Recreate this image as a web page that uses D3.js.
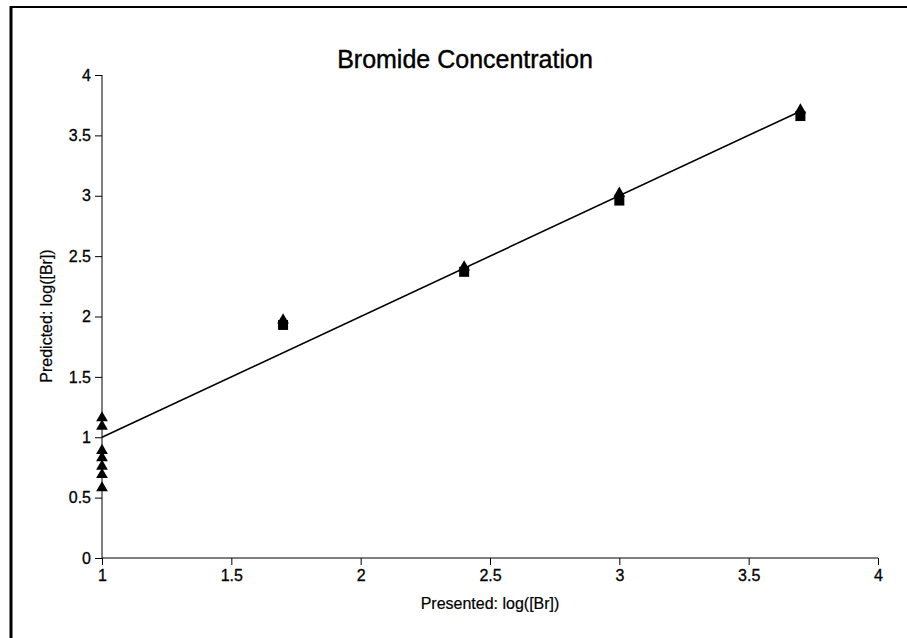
<!DOCTYPE html>
<html>
<head>
<meta charset="utf-8">
<script src="https://cdn.jsdelivr.net/npm/d3@7"></script>
<style>
  body { margin: 0; background: #fff; }
  text { font-family: "Liberation Sans", Arial, sans-serif; fill: #000; }
</style>
</head>
<body>
<svg id="chart" width="907" height="638"></svg>
<script>
// data
const triX = [1, 1, 1, 1, 1, 1, 1, 1.7, 2.4, 3, 3.7];
const triY = [1.16, 1.09, 0.89, 0.83, 0.76, 0.69, 0.58, 1.97, 2.41, 3.02, 3.71];
const sqX = [1.7, 2.4, 3, 3.7];
const sqY = [1.93, 2.37, 2.96, 3.66];
const fitLine = [[1, 1], [3.7, 3.7]];
const xTicks = [1, 1.5, 2, 2.5, 3, 3.5, 4];
const yTicks = [0, 0.5, 1, 1.5, 2, 2.5, 3, 3.5, 4];

const svg = d3.select("#chart");

// frame: only the top and left edges show in the scan
svg.append("line")
    .attr("x1", 10).attr("x2", 907).attr("y1", 7).attr("y2", 7)
    .attr("stroke", "#000").attr("stroke-width", 2);
svg.append("line")
    .attr("x1", 11).attr("x2", 11).attr("y1", 6).attr("y2", 638)
    .attr("stroke", "#000").attr("stroke-width", 3);

const x = d3.scaleLinear().domain([1, 4]).range([102, 878]);
const y = d3.scaleLinear().domain([0, 4]).range([558, 75]);

const xAxis = d3.axisBottom(x).tickValues(xTicks).tickFormat(d3.format("")).tickSize(7).tickPadding(5);
const yAxis = d3.axisLeft(y).tickValues(yTicks).tickFormat(d3.format("")).tickSize(7).tickPadding(4);

const gx = svg.append("g").attr("transform", "translate(0,558)").call(xAxis);
const gy = svg.append("g").attr("transform", "translate(102,0)").call(yAxis);
[gx, gy].forEach(g => {
    g.select(".domain").attr("stroke", "#000").attr("stroke-width", 1);
    g.selectAll(".tick line").attr("stroke", "#000");
    g.selectAll(".tick text").style("font-size", "16px").attr("fill", "#000")
        .attr("stroke", "#000").attr("stroke-width", 0.3);
});
// the original draws the axes as plain lines with no end caps
gx.select(".domain").attr("d", "M102,0H878");
gy.select(".domain").attr("d", "M0,75V558");

svg.append("text")
    .attr("x", 465).attr("y", 68)
    .attr("text-anchor", "middle")
    .style("font-size", "25px")
    .attr("stroke", "#000").attr("stroke-width", 0.4)
    .text("Bromide Concentration");

svg.append("text")
    .attr("x", 490).attr("y", 609)
    .attr("text-anchor", "middle")
    .style("font-size", "16px")
    .attr("stroke", "#000").attr("stroke-width", 0.2)
    .text("Presented: log([Br])");

svg.append("text")
    .attr("transform", "translate(52,316) rotate(-90)")
    .attr("text-anchor", "middle")
    .style("font-size", "16px")
    .attr("stroke", "#000").attr("stroke-width", 0.2)
    .text("Predicted: log([Br])");

// identity line
svg.append("path")
    .datum(fitLine)
    .attr("d", d3.line().x(d => x(d[0])).y(d => y(d[1])))
    .attr("fill", "none")
    .attr("stroke", "#000")
    .attr("stroke-width", 1.6);

// squares
svg.selectAll("rect.sq")
    .data(sqX.map((v, i) => [v, sqY[i]]))
    .join("rect")
    .attr("class", "sq")
    .attr("x", d => x(d[0]) - 5)
    .attr("y", d => y(d[1]) - 5)
    .attr("width", 10).attr("height", 10)
    .attr("fill", "#000");

// triangles
const tri = d3.symbol().type(d3.symbolTriangle).size(60);
svg.selectAll("path.tri")
    .data(triX.map((v, i) => [v, triY[i]]))
    .join("path")
    .attr("class", "tri")
    .attr("d", tri)
    .attr("transform", d => `translate(${x(d[0])},${y(d[1])})`)
    .attr("fill", "#000");
</script>
</body>
</html>
